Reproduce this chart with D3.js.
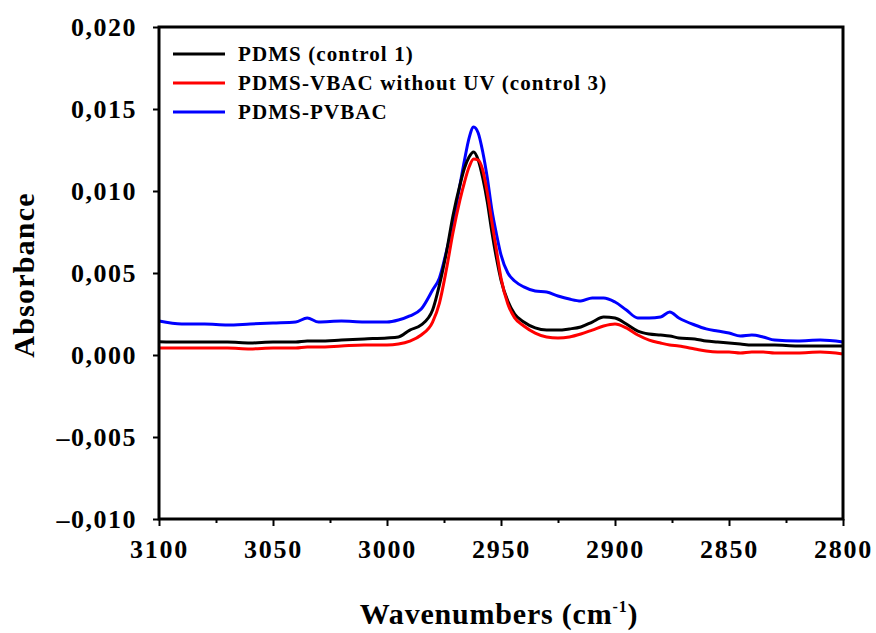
<!DOCTYPE html>
<html>
<head>
<meta charset="utf-8">
<script src="https://cdn.jsdelivr.net/npm/d3@7"></script>
<style>
  html, body { margin: 0; padding: 0; background: #fff; }
  svg { display: block; }
  text { font-family: "Liberation Serif", "Times New Roman", serif; font-weight: bold; fill: #000; }
</style>
</head>
<body>
<svg id="chart" width="876" height="633"></svg>
<script>
// FTIR spectra, C–H stretching region
const wavenumbers = [3100, 3090, 3080, 3070, 3060, 3050, 3040, 3035, 3030, 3020, 3010, 3000,
  2995, 2990, 2985, 2980, 2977, 2974, 2971, 2968, 2966, 2964, 2962, 2960, 2958, 2956, 2954,
  2952, 2950, 2947, 2944, 2940, 2935, 2930, 2925, 2920, 2915, 2910, 2905, 2900, 2895, 2890,
  2885, 2880, 2876, 2872, 2865, 2860, 2855, 2850, 2845, 2840, 2835, 2830, 2820, 2810, 2800];

const pdmsControl1 = [0.00081, 0.00079, 0.00079, 0.00079, 0.00073, 0.00079, 0.00079, 0.00085,
  0.00085, 0.00091, 0.00098, 0.00104, 0.00110, 0.00152, 0.00183, 0.00274, 0.00427, 0.00622,
  0.00854, 0.01037, 0.01140, 0.01207, 0.01238, 0.01189, 0.01079, 0.00933, 0.00750, 0.00591,
  0.00457, 0.00329, 0.00250, 0.00201, 0.00165, 0.00152, 0.00152, 0.00159, 0.00171, 0.00201,
  0.00232, 0.00226, 0.00189, 0.00146, 0.00128, 0.00122, 0.00116, 0.00104, 0.00098, 0.00085,
  0.00079, 0.00073, 0.00067, 0.00061, 0.00061, 0.00061, 0.00055, 0.00055, 0.00055];

const pdmsVbacNoUv = [0.00043, 0.00043, 0.00043, 0.00043, 0.00037, 0.00043, 0.00043, 0.00049,
  0.00049, 0.00055, 0.00061, 0.00061, 0.00067, 0.00085, 0.00122, 0.00201, 0.00317, 0.00518,
  0.00750, 0.00945, 0.01055, 0.01146, 0.01195, 0.01189, 0.01128, 0.00988, 0.00811, 0.00640,
  0.00470, 0.00311, 0.00226, 0.00177, 0.00134, 0.00110, 0.00104, 0.00110, 0.00128, 0.00152,
  0.00177, 0.00189, 0.00165, 0.00122, 0.00091, 0.00073, 0.00061, 0.00055, 0.00037, 0.00024,
  0.00018, 0.00018, 0.00012, 0.00018, 0.00018, 0.00012, 0.00012, 0.00018, 0.00006];

const pdmsPvbac = [0.00207, 0.00189, 0.00189, 0.00183, 0.00189, 0.00195, 0.00201, 0.00226,
  0.00201, 0.00207, 0.00201, 0.00201, 0.00213, 0.00238, 0.00280, 0.00396, 0.00470, 0.00628,
  0.00811, 0.01037, 0.01189, 0.01323, 0.01390, 0.01354, 0.01238, 0.01079, 0.00884, 0.00738,
  0.00610, 0.00500, 0.00451, 0.00415, 0.00390, 0.00384, 0.00360, 0.00341, 0.00329, 0.00348,
  0.00348, 0.00323, 0.00274, 0.00226, 0.00226, 0.00232, 0.00262, 0.00226, 0.00183, 0.00159,
  0.00146, 0.00134, 0.00116, 0.00122, 0.00110, 0.00091, 0.00085, 0.00091, 0.00079];

const seriesNames = ["PDMS (control 1)", "PDMS-VBAC without UV (control 3)", "PDMS-PVBAC"];
const seriesColors = ["#000000", "#ff0000", "#0000ff"];
const seriesValues = [pdmsControl1, pdmsVbacNoUv, pdmsPvbac];

const xTicks = [3100, 3050, 3000, 2950, 2900, 2850, 2800];
const xMinorTicks = [3075, 3025, 2975, 2925, 2875, 2825];
const yTicks = [-0.010, -0.005, 0.000, 0.005, 0.010, 0.015, 0.020];

const svg = d3.select("#chart");
const plotLeft = 159, plotRight = 843, plotTop = 27, plotBottom = 519;

const x = d3.scaleLinear().domain([3100, 2800]).range([plotLeft, plotRight]);
const y = d3.scaleLinear().domain([-0.010, 0.020]).range([plotBottom, plotTop]);

const commaLocale = d3.formatLocale({ decimal: ",", thousands: ".", grouping: [3], currency: ["", ""], minus: "\u2013" });
const fmtY = commaLocale.format(".3f");

// spectra, drawn first so the frame sits on top
const line = d3.line()
  .x(d => x(d[0]))
  .y(d => y(d[1]))
  .curve(d3.curveMonotoneX);

// blue first, then black, red on top
[2, 0, 1].forEach(i => {
  const pts = wavenumbers.map((w, k) => [w, seriesValues[i][k]]);
  svg.append("path")
    .datum(pts)
    .attr("d", line)
    .attr("fill", "none")
    .attr("stroke", seriesColors[i])
    .attr("stroke-width", 3)
    .attr("stroke-linejoin", "round");
});

// bottom axis
const xAxis = d3.axisBottom(x).tickValues(xTicks).tickSize(7).tickFormat(d3.format("d"));
const gx = svg.append("g").attr("transform", `translate(0,${plotBottom})`).call(xAxis);
gx.select(".domain").remove();
gx.selectAll(".tick line").attr("stroke-width", 2);
gx.selectAll(".tick text").attr("font-size", 26).attr("dy", "1.1em")
  .attr("letter-spacing", 1.8)
  .attr("font-family", "Liberation Serif").attr("font-weight", "bold");

const xMinor = d3.axisBottom(x).tickValues(xMinorTicks).tickSize(4).tickFormat("");
const gxm = svg.append("g").attr("transform", `translate(0,${plotBottom})`).call(xMinor);
gxm.select(".domain").remove();
gxm.selectAll(".tick line").attr("stroke-width", 2);

// left axis
const yAxis = d3.axisLeft(y).tickValues(yTicks).tickSize(6).tickPadding(16).tickFormat(fmtY);
const gy = svg.append("g").attr("transform", `translate(${plotLeft},0)`).call(yAxis);
gy.select(".domain").remove();
gy.selectAll(".tick line").attr("stroke-width", 2);
gy.selectAll(".tick text").attr("font-size", 26).attr("letter-spacing", 1.5)
  .attr("font-family", "Liberation Serif").attr("font-weight", "bold");

// frame
svg.append("rect")
  .attr("x", plotLeft).attr("y", plotTop)
  .attr("width", plotRight - plotLeft).attr("height", plotBottom - plotTop)
  .attr("fill", "none").attr("stroke", "#000").attr("stroke-width", 3);

// legend
const legend = svg.append("g");
seriesNames.forEach((name, i) => {
  const ly = 54 + i * 29;
  legend.append("line")
    .attr("x1", 173).attr("x2", 225).attr("y1", ly).attr("y2", ly)
    .attr("stroke", seriesColors[i]).attr("stroke-width", 3);
  legend.append("text")
    .attr("x", 238).attr("y", ly)
    .attr("dy", "0.35em")
    .attr("font-size", 21)
    .attr("letter-spacing", 1.1)
    .text(name);
});

// axis titles
svg.append("text")
  .attr("transform", `translate(34,${(plotTop + plotBottom) / 2 + 2}) rotate(-90)`)
  .attr("text-anchor", "middle")
  .attr("font-size", 30)
  .attr("letter-spacing", 1.2)
  .text("Absorbance");

const xt = svg.append("text")
  .attr("x", (plotLeft + plotRight) / 2 - 2)
  .attr("y", 624)
  .attr("text-anchor", "middle")
  .attr("font-size", 30)
  .attr("letter-spacing", 0.8);
xt.append("tspan").text("Wavenumbers (cm");
xt.append("tspan").attr("dy", -12).attr("font-size", 16).text("-1");
xt.append("tspan").attr("dy", 12).text(")");
</script>
</body>
</html>
